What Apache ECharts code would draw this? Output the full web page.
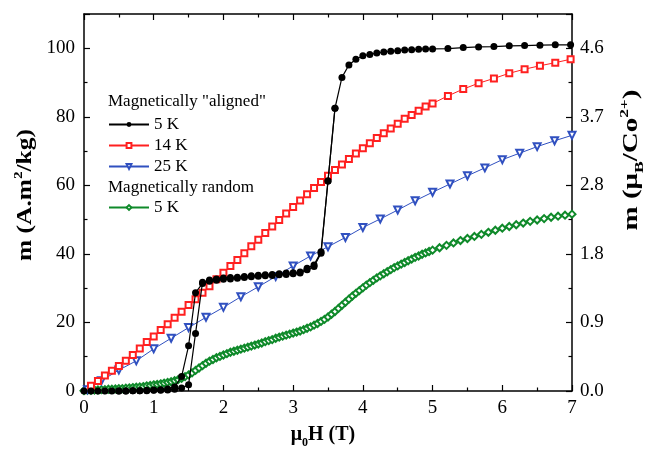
<!DOCTYPE html>
<html>
<head>
<meta charset="utf-8">
<script src="https://cdn.jsdelivr.net/npm/echarts@6/dist/echarts.min.js"></script>
<style>html,body{margin:0;padding:0;background:#fff}#c{width:648px;height:450px}</style>
</head>
<body>
<div id="c"></div>
<script>
// ---- data ----
const xTicks = [0, 1, 2, 3, 4, 5, 6, 7];
const leftTicks = [0, 20, 40, 60, 80, 100];
const rightTickLabels = ['0.0', '0.9', '1.8', '2.8', '3.7', '4.6'];

const aligned5KUp = [[0.0,0.0],[0.1,0.0],[0.2,0.0],[0.3,0.0],[0.4,0.0],[0.5,0.0],[0.6,0.0],[0.7,0.1],[0.8,0.1],[0.9,0.1],[1.0,0.2],[1.1,0.2],[1.2,0.3],[1.3,0.5],[1.4,0.9],[1.5,1.8],[1.6,16.8],[1.7,31.7],[1.8,32.4],[1.9,32.7],[2.0,33.0],[2.1,33.1],[2.2,33.2],[2.3,33.4],[2.4,33.6],[2.5,33.8],[2.6,33.9],[2.7,34.0],[2.8,34.2],[2.9,34.4],[3.0,34.5],[3.1,34.7],[3.2,35.8],[3.3,36.8],[3.4,40.6],[3.5,61.3],[3.6,82.5],[3.7,91.5],[3.8,95.1],[3.9,96.8],[4.0,97.8],[4.1,98.2],[4.2,98.6],[4.3,98.9],[4.4,99.1],[4.5,99.3],[4.6,99.5],[4.7,99.6],[4.8,99.7],[4.9,99.8],[5.0,99.8],[5.22,99.9],[5.44,100.2],[5.66,100.4],[5.88,100.5],[6.1,100.7],[6.32,100.8],[6.54,100.9],[6.76,101.0],[6.98,101.0]];
const aligned5KDown = [[3.6,82.5],[3.5,61.3],[3.4,40.2],[3.3,36.3],[3.2,35.4],[3.1,34.4],[3.0,34.2],[2.9,34.0],[2.8,33.9],[2.7,33.7],[2.6,33.6],[2.5,33.5],[2.4,33.3],[2.3,33.1],[2.2,32.9],[2.1,32.7],[2.0,32.6],[1.9,32.3],[1.8,32.0],[1.7,31.4],[1.6,28.7],[1.5,13.2],[1.4,4.2],[1.3,1.2],[1.2,0.6],[1.1,0.4],[1.0,0.3],[0.9,0.2],[0.8,0.1],[0.7,0.1],[0.6,0.0],[0.5,0.0]];
const aligned14K = [[0.1,1.5],[0.2,2.9],[0.3,4.5],[0.4,5.9],[0.5,7.3],[0.6,8.8],[0.7,10.5],[0.8,12.4],[0.9,14.3],[1.0,15.9],[1.1,17.8],[1.2,19.5],[1.3,21.4],[1.4,23.1],[1.5,25.1],[1.6,26.8],[1.7,28.7],[1.8,30.6],[1.9,32.6],[2.0,34.5],[2.1,36.5],[2.2,38.2],[2.3,40.2],[2.4,42.2],[2.5,44.1],[2.6,46.1],[2.7,48.0],[2.8,49.9],[2.9,51.8],[3.0,53.7],[3.1,55.6],[3.2,57.4],[3.3,59.2],[3.4,61.0],[3.5,62.8],[3.6,64.5],[3.7,66.1],[3.8,67.7],[3.9,69.3],[4.0,70.8],[4.1,72.3],[4.2,73.8],[4.3,75.2],[4.4,76.6],[4.5,78.0],[4.6,79.4],[4.7,80.5],[4.8,81.8],[4.9,83.0],[5.0,83.9],[5.22,86.1],[5.44,88.1],[5.66,89.8],[5.88,91.2],[6.1,92.7],[6.32,93.9],[6.54,94.9],[6.76,95.8],[6.98,96.8]];
const aligned25K = [[0.05,0.4],[0.25,3.0],[0.5,6.1],[0.75,8.8],[1.0,12.3],[1.25,15.4],[1.5,18.5],[1.75,21.5],[2.0,24.4],[2.25,27.5],[2.5,30.4],[2.75,33.4],[3.0,36.5],[3.25,39.4],[3.5,42.1],[3.75,44.8],[4.0,47.7],[4.25,50.2],[4.5,52.8],[4.75,55.5],[5.0,58.0],[5.25,60.4],[5.5,62.8],[5.75,65.1],[6.0,67.5],[6.25,69.4],[6.5,71.3],[6.75,73.0],[7.0,74.6]];
const random5K = [[0.00,0.1],[0.05,0.2],[0.10,0.2],[0.15,0.3],[0.20,0.3],[0.25,0.4],[0.30,0.4],[0.35,0.5],[0.40,0.5],[0.45,0.6],[0.50,0.7],[0.55,0.7],[0.60,0.8],[0.65,0.9],[0.70,1.0],[0.75,1.1],[0.80,1.2],[0.85,1.3],[0.90,1.5],[0.95,1.6],[1.00,1.8],[1.05,1.9],[1.10,2.1],[1.15,2.3],[1.20,2.5],[1.25,2.7],[1.30,3.0],[1.35,3.3],[1.40,3.7],[1.45,4.2],[1.50,4.7],[1.55,5.3],[1.60,6.0],[1.65,6.7],[1.70,7.4],[1.75,8.1],[1.80,8.7],[1.85,9.2],[1.90,9.7],[1.95,10.1],[2.00,10.5],[2.05,10.9],[2.10,11.3],[2.15,11.6],[2.20,11.9],[2.25,12.2],[2.30,12.5],[2.35,12.8],[2.40,13.1],[2.45,13.4],[2.50,13.7],[2.55,14.0],[2.60,14.4],[2.65,14.7],[2.70,15.0],[2.75,15.4],[2.80,15.7],[2.85,16.0],[2.90,16.3],[2.95,16.6],[3.00,16.9],[3.05,17.2],[3.10,17.5],[3.15,17.9],[3.20,18.3],[3.25,18.7],[3.30,19.2],[3.35,19.7],[3.40,20.3],[3.45,20.9],[3.50,21.6],[3.55,22.4],[3.60,23.2],[3.65,24.1],[3.70,25.0],[3.75,25.9],[3.80,26.8],[3.85,27.7],[3.90,28.5],[3.95,29.3],[4.00,30.1],[4.05,30.9],[4.10,31.6],[4.15,32.3],[4.20,33.0],[4.25,33.6],[4.30,34.2],[4.35,34.8],[4.40,35.4],[4.45,36.0],[4.50,36.5],[4.55,37.0],[4.60,37.5],[4.65,38.0],[4.70,38.5],[4.75,39.0],[4.80,39.4],[4.85,39.9],[4.90,40.3],[4.95,40.7],[5.00,41.1],[5.1,41.8],[5.2,42.5],[5.3,43.2],[5.4,43.9],[5.5,44.5],[5.6,45.1],[5.7,45.7],[5.8,46.3],[5.9,46.9],[6.0,47.5],[6.1,48.0],[6.2,48.5],[6.3,49.0],[6.4,49.5],[6.5,49.9],[6.6,50.3],[6.7,50.7],[6.8,51.0],[6.9,51.3],[7.0,51.6]];

// ---- chart ----
const FONT = 'Liberation Serif';
const chart = echarts.init(document.getElementById('c'), null, {renderer: 'canvas'});
const axisCommon = {
  axisLine: {show: true, onZero: false, lineStyle: {color: '#000', width: 1.5}},
  axisTick: {show: true, inside: true, length: 6, lineStyle: {color: '#000', width: 1.2}},
  minorTick: {show: true, splitNumber: 2, length: 3.5, lineStyle: {color: '#000', width: 1.2}},
  splitLine: {show: false},
  minorSplitLine: {show: false}
};
const labelStyle = {color: '#000', fontFamily: FONT, fontSize: 19};
const richName = {
  b: {fontFamily: FONT, fontWeight: 'bold', fontSize: 20, lineHeight: 27, color: '#000'},
  sup: {fontFamily: FONT, fontWeight: 'bold', fontSize: 12, lineHeight: 12, verticalAlign: 'top', color: '#000'},
  sub: {fontFamily: FONT, fontWeight: 'bold', fontSize: 12, lineHeight: 12, verticalAlign: 'bottom', color: '#000'}
};
const rightMax = 110 * 0.046;

chart.setOption({
  animation: false,
  backgroundColor: '#fff',
  grid: {left: 84, right: 76, top: 14, bottom: 59, containLabel: false, outerBoundsMode: 'none'},
  xAxis: [
    Object.assign({type: 'value', position: 'bottom', min: xTicks[0], max: xTicks[xTicks.length - 1], interval: 1,
      axisLabel: Object.assign({margin: 8}, labelStyle)}, axisCommon),
    Object.assign({type: 'value', position: 'top', min: xTicks[0], max: xTicks[xTicks.length - 1], interval: 1,
      axisLabel: {show: false}}, axisCommon)
  ],
  yAxis: [
    Object.assign({type: 'value', position: 'left', min: 0, max: 110, interval: 20,
      axisLabel: Object.assign({margin: 9, showMaxLabel: false,
        formatter: v => (leftTicks.indexOf(v) >= 0 ? String(v) : '')}, labelStyle)}, axisCommon),
    Object.assign({type: 'value', position: 'right', min: 0, max: rightMax, interval: 0.92,
      axisLabel: Object.assign({margin: 8, showMaxLabel: false,
        formatter: v => { const i = Math.round(v / 0.92); return (Math.abs(v - i * 0.92) < 1e-6 && rightTickLabels[i]) ? rightTickLabels[i] : ''; }}, labelStyle)}, axisCommon)
  ],
  legend: [
    {data: ['5 K', '14 K', '25 K'], orient: 'vertical', left: 108, top: 116, padding: 0,
      itemWidth: 40, itemHeight: 6, itemGap: 4, selectedMode: false,
      textStyle: {fontFamily: FONT, fontSize: 17, color: '#000', lineHeight: 17}},
    {data: ['5 K random'], orient: 'vertical', left: 108, top: 199, padding: 0,
      itemWidth: 40, itemHeight: 6, itemGap: 4, selectedMode: false, formatter: () => '5 K',
      textStyle: {fontFamily: FONT, fontSize: 17, color: '#000', lineHeight: 17}}
  ],
  graphic: [
    {type: 'text', left: 108, top: 93, style: {text: 'Magnetically "aligned"', fontFamily: FONT, fontSize: 17, fill: '#000'}},
    {type: 'text', left: 108, top: 179, style: {text: 'Magnetically random', fontFamily: FONT, fontSize: 17, fill: '#000'}},
    {type: 'text', x: 26, y: 195, rotation: Math.PI / 2, scaleX: 1.27,
      style: {text: '{b|m (A.m}{sup|2}{b|/kg)}', rich: richName, align: 'center', verticalAlign: 'middle'}},
    {type: 'text', x: 632, y: 160, rotation: Math.PI / 2, scaleX: 1.45,
      style: {text: '{b|m (μ}{sub|B}{b|/Co}{sup|2+}{b|)}', rich: richName, align: 'center', verticalAlign: 'middle'}},
    {type: 'text', x: 323, y: 435,
      style: {text: '{b|μ}{sub|0}{b|H (T)}', rich: richName, align: 'center', verticalAlign: 'middle'}}
  ],
  series: [
    {name: '5 K random', type: 'line', data: random5K, symbol: 'emptyDiamond', symbolSize: 7,
      lineStyle: {color: '#0f8a2a', width: 1}, itemStyle: {color: '#0f8a2a', borderWidth: 1.2}, z: 2},
    {name: '25 K', type: 'line', data: aligned25K, symbol: 'emptyTriangle', symbolRotate: 180, symbolSize: 7,
      lineStyle: {color: '#3050c0', width: 1}, itemStyle: {color: '#3050c0', borderWidth: 1}, z: 3},
    {name: '14 K', type: 'line', data: aligned14K, symbol: 'emptyRect', symbolSize: 6,
      lineStyle: {color: '#ff2020', width: 1}, itemStyle: {color: '#ff2020', borderWidth: 1}, z: 4},
    {name: '5 K', type: 'line', data: aligned5KUp, symbol: 'circle', symbolSize: 7,
      lineStyle: {color: '#000', width: 1.2}, itemStyle: {color: '#000'}, z: 5},
    {name: '5 K', type: 'line', data: aligned5KDown, symbol: 'circle', symbolSize: 7,
      lineStyle: {color: '#000', width: 1.2}, itemStyle: {color: '#000'}, z: 5}
  ]
});
</script>
</body>
</html>
